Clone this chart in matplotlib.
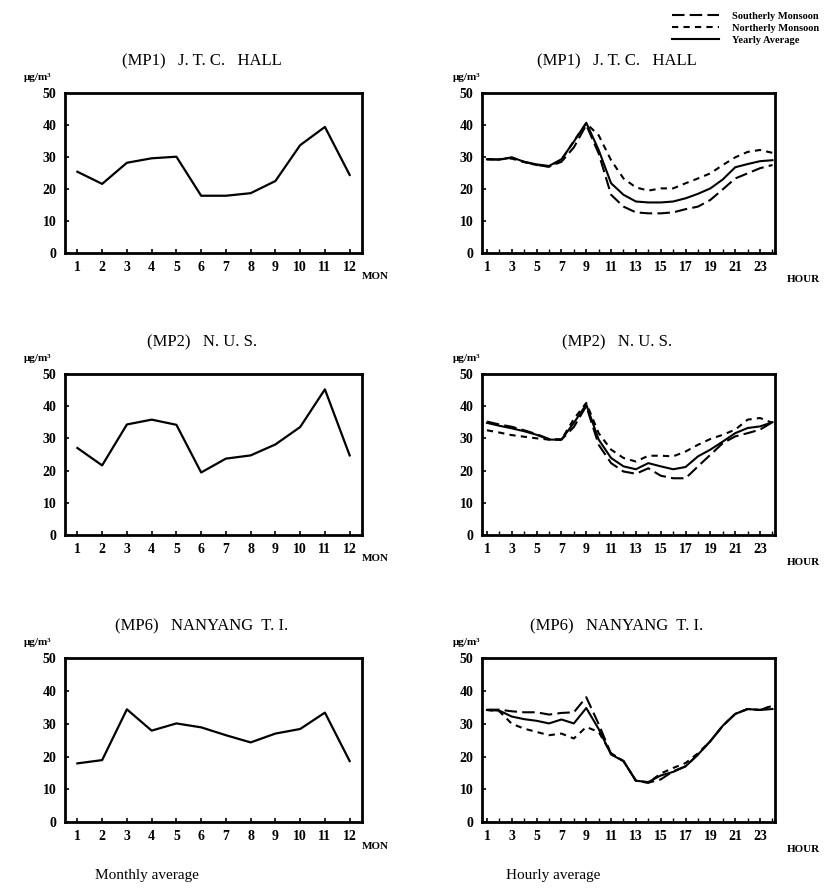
import matplotlib.pyplot as plt
import matplotlib.lines as mlines

# station titles
titles = ["(MP1)   J. T. C.   HALL", "(MP2)   N. U. S.", "(MP6)   NANYANG  T. I."]

months = list(range(1, 13))
hours = list(range(1, 25))

# monthly averages (ug/m3)
mon_mp1 = [25.4, 21.6, 28.2, 29.6, 30.1, 17.9, 17.9, 18.7, 22.5, 33.7, 39.4, 24.4]
mon_mp2 = [27.0, 21.6, 34.3, 35.8, 34.2, 19.4, 23.7, 24.7, 28.1, 33.5, 45.2, 24.7]
mon_mp6 = [17.9, 18.9, 34.4, 27.9, 30.1, 28.9, 26.5, 24.3, 27.0, 28.4, 33.4, 18.6]

# hourly averages: yearly, northerly monsoon, southerly monsoon
hr_mp1_year = [29.3, 29.2, 29.9, 28.5, 27.7, 27.2, 29.3, 34.8, 40.7, 32.2, 21.8, 18.2,
               16.1, 15.8, 15.8, 16.1, 17.1, 18.5, 20.2, 23.0, 26.8, 27.8, 28.7, 29.0]
hr_mp1_north = [29.3, 29.3, 29.5, 28.4, 27.5, 27.0, 29.0, 35.0, 40.5, 36.8, 29.0, 23.3,
                20.5, 19.5, 20.2, 20.2, 21.8, 23.3, 24.9, 27.5, 29.9, 31.6, 32.2, 31.3]
hr_mp1_south = [29.3, 29.2, 29.8, 28.5, 27.5, 27.0, 28.5, 33.0, 40.0, 31.1, 18.2, 14.5,
                12.7, 12.4, 12.4, 12.7, 13.7, 14.5, 16.6, 19.9, 23.3, 24.9, 26.5, 27.5]

hr_mp2_year = [34.8, 33.9, 33.1, 32.2, 31.1, 29.6, 29.6, 34.8, 40.5, 29.6, 23.9, 21.3,
               20.4, 22.3, 21.3, 20.4, 21.1, 24.4, 26.5, 29.0, 31.6, 33.2, 33.7, 35.0]
hr_mp2_north = [32.5, 31.8, 31.0, 30.5, 30.0, 29.6, 29.6, 36.0, 41.0, 31.6, 26.5, 23.9,
                22.8, 24.6, 24.6, 24.4, 25.9, 28.0, 29.8, 31.1, 32.7, 35.8, 36.3, 34.8]
hr_mp2_south = [35.2, 34.3, 33.6, 32.5, 31.3, 29.8, 29.6, 33.5, 40.0, 28.0, 22.3, 19.7,
                19.0, 20.7, 18.4, 17.6, 17.6, 21.3, 24.9, 28.5, 30.6, 31.6, 32.7, 35.0]

hr_mp6_year = [34.2, 34.0, 32.2, 31.4, 30.9, 30.1, 31.3, 30.1, 34.8, 28.4, 20.6, 18.6,
               12.6, 12.2, 14.2, 15.3, 17.0, 20.6, 24.7, 29.4, 33.0, 34.5, 34.2, 34.5]
hr_mp6_north = [34.2, 33.8, 30.0, 28.5, 27.5, 26.5, 27.0, 25.5, 29.0, 27.5, 21.0, 18.6,
                12.6, 12.0, 14.8, 16.5, 18.0, 21.0, 24.7, 29.4, 33.0, 34.5, 34.2, 35.5]
hr_mp6_south = [34.3, 34.3, 33.8, 33.5, 33.5, 32.8, 33.3, 33.5, 38.1, 29.9, 20.8, 18.6,
                12.6, 12.0, 13.0, 15.5, 17.0, 20.6, 24.7, 29.4, 33.0, 34.5, 34.2, 35.5]

monthly = [mon_mp1, mon_mp2, mon_mp6]
hourly = [(hr_mp1_year, hr_mp1_north, hr_mp1_south),
          (hr_mp2_year, hr_mp2_north, hr_mp2_south),
          (hr_mp6_year, hr_mp6_north, hr_mp6_south)]

serif = "Liberation Serif"
plt.rcParams['font.family'] = serif

fig = plt.figure(figsize=(8.26, 8.9), dpi=100)

rows = [(0.7157, 0.1798), (0.3989, 0.1810), (0.0764, 0.1840)]
south_ls = (0, (6, 2.5))
north_ls = (0, (3, 2.5))


def style_axes(ax):
    for s in ax.spines.values():
        s.set_linewidth(2)
    ax.set_ylim(0, 50)
    ax.set_yticks(range(0, 51, 10))
    ax.tick_params(direction='in', length=3, width=1.2, labelsize=10, pad=6)
    for lbl in ax.get_yticklabels() + ax.get_xticklabels():
        lbl.set_fontweight('bold')


for i in range(3):
    b, h = rows[i]
    # monthly panel
    ax = fig.add_axes([0.0787, b, 0.3596, h])
    ax.plot(months, monthly[i], color='black', lw=1.6)
    ax.set_xlim(0.5, 12.5)
    ax.set_xticks(months)
    style_axes(ax)
    ax.set_title(titles[i], fontsize=12, pad=20, x=0.46)
    ax.text(-0.14, 1.08, "μg/m³", transform=ax.transAxes, fontsize=8, fontweight='bold')
    ax.text(1.0, -0.12, "MON", transform=ax.transAxes, fontsize=8, fontweight='bold', va='top')

    # hourly panel
    ax2 = fig.add_axes([0.5835, b, 0.3547, h])
    yr, no, so = hourly[i]
    ax2.plot(hours, so, color='black', lw=1.5, ls=south_ls)
    ax2.plot(hours, no, color='black', lw=1.5, ls=north_ls)
    ax2.plot(hours, yr, color='black', lw=1.5)
    ax2.set_xlim(0.6, 24.2)
    ax2.set_xticks(range(1, 24, 2))
    ax2.set_xticks(range(1, 25), minor=True)
    ax2.tick_params(which='minor', direction='in', length=3, width=1)
    style_axes(ax2)
    ax2.set_title(titles[i], fontsize=12, pad=20, x=0.46)
    ax2.text(-0.1, 1.08, "μg/m³", transform=ax2.transAxes, fontsize=8, fontweight='bold')
    ax2.text(1.04, -0.14, "HOUR", transform=ax2.transAxes, fontsize=8, fontweight='bold', va='top')

# legend top right
handles = [mlines.Line2D([], [], color='black', lw=1.5, ls=south_ls),
           mlines.Line2D([], [], color='black', lw=1.5, ls=north_ls),
           mlines.Line2D([], [], color='black', lw=1.5)]
labels = ["Southerly Monsoon", "Northerly Monsoon", "Yearly Average"]
fig.legend(handles, labels, loc='upper right', bbox_to_anchor=(1.0, 0.995), frameon=False,
           prop={'family': serif, 'weight': 'bold', 'size': 7.5}, handlelength=4.5,
           labelspacing=0.25, handletextpad=1.2, borderaxespad=0.3)

fig.text(0.115, 0.012, "Monthly average", fontsize=11, family=serif)
fig.text(0.613, 0.012, "Hourly average", fontsize=11, family=serif)

fig.savefig("out.png", dpi=100)
